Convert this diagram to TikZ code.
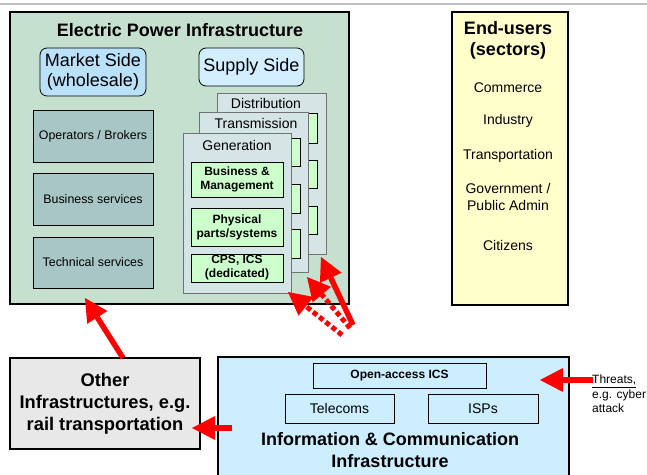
\documentclass[tikz,border=0pt]{standalone}
\usepackage{fontspec}
\setmainfont{Liberation Sans}
\usetikzlibrary{arrows.meta}
\definecolor{epgreen}{RGB}{197,224,206}
\definecolor{mblue}{RGB}{185,225,250}
\definecolor{sblue}{RGB}{210,238,255}
\definecolor{lboxc}{RGB}{169,198,198}
\definecolor{panelc}{RGB}{213,228,228}
\definecolor{ingreen}{RGB}{204,255,204}
\definecolor{euyellow}{RGB}{255,255,204}
\definecolor{othgray}{RGB}{232,232,232}
\definecolor{ictblue}{RGB}{204,238,255}
\definecolor{topline}{RGB}{192,192,192}
\begin{document}
\begin{tikzpicture}[x=1pt,y=-1pt,
  thinbox/.style={draw=black, line width=0.8pt, inner sep=0pt},
  bigbox/.style={draw=black, line width=1.6pt, inner sep=0pt},
  panelbox/.style={draw=black!55, line width=0.7pt, fill=panelc, inner sep=0pt},
  gbox/.style={draw=black, line width=0.8pt, fill=ingreen, inner sep=0pt, align=center, font=\fontsize{12}{14}\selectfont\bfseries},
  lbox/.style={thinbox, fill=lboxc, minimum width=120pt, font=\fontsize{12.4}{14}\selectfont},
  eutext/.style={font=\fontsize{14}{16.5}\selectfont, align=center},
  redarrow/.style={draw=red, line width=5.5pt, -{Triangle[length=23pt,width=24pt,line width=0pt]}},
  reddots/.style={redarrow, line width=5pt, dash pattern=on 5pt off 3pt}
]
\clip (0,0) rectangle (647,474);
\fill[white] (0,0) rectangle (647,474);
\draw[topline, line width=2pt] (0,4) -- (647,4);

% Electric power infrastructure
\node[bigbox, fill=epgreen, minimum width=339pt, minimum height=292pt] (ep) at (179.5,158) {};
\node[font=\fontsize{18}{21}\selectfont\bfseries] (eptitle) at (180,30) {Electric Power Infrastructure};
\node[thinbox, fill=mblue, rounded corners=7pt, minimum width=106pt, minimum height=48pt, align=center, font=\fontsize{18}{21}\selectfont] (mkt) at (93,72) {Market Side\\[-1pt](wholesale)};
\node[thinbox, fill=sblue, rounded corners=7pt, minimum width=105pt, minimum height=38pt, font=\fontsize{18}{21}\selectfont] (sup) at (251.5,67) {Supply Side};

\node[lbox, minimum height=52pt] (ops) at (93,136) {Operators / Brokers};
\node[lbox, minimum height=52pt] (bus) at (93,199) {Business services};
\node[lbox, minimum height=51pt] (tec) at (93,262.5) {Technical services};

% Distribution panel
\node[panelbox, minimum width=109pt, minimum height=161pt] (dis) at (271.5,173.5) {};
\node[font=\fontsize{14}{16}\selectfont] (dislab) at (266,103) {Distribution};
\node[gbox, minimum width=92pt, minimum height=30pt] (d1) at (271,128) {};
\node[gbox, minimum width=92pt, minimum height=28pt] (d2) at (271,174) {};
\node[gbox, minimum width=92pt, minimum height=28pt] (d3) at (271,220) {};

% Transmission panel
\node[panelbox, minimum width=109pt, minimum height=160pt] (tra) at (253.5,192) {};
\node[font=\fontsize{14}{16}\selectfont] (tralab) at (256,123) {Transmission};
\node[gbox, minimum width=93pt, minimum height=28pt] (t1) at (253.5,152) {};
\node[gbox, minimum width=93pt, minimum height=29pt] (t2) at (253.5,198.5) {};
\node[gbox, minimum width=93pt, minimum height=29pt] (t3) at (253.5,243.5) {};

% Generation panel
\node[panelbox, minimum width=108pt, minimum height=160pt] (gen) at (237,213) {};
\node[font=\fontsize{14}{16}\selectfont] (genlab) at (237,145) {Generation};
\node[gbox, minimum width=92pt, minimum height=35pt] (g1) at (237,179.5) {Business \&\\Management};
\node[gbox, minimum width=92pt, minimum height=38pt] (g2) at (237,227) {Physical\\parts/systems};
\node[gbox, minimum width=92pt, minimum height=28pt] (g3) at (237,268) {CPS, ICS\\(dedicated)};

% End-users
\node[bigbox, fill=euyellow, minimum width=116pt, minimum height=293pt] (eu) at (510,158.5) {};
\node[font=\fontsize{18}{20.5}\selectfont\bfseries, align=center] (eutitle) at (508,40.5) {End-users\\(sectors)};
\node[eutext] (com) at (508,88) {Commerce};
\node[eutext] (ind) at (508,121) {Industry};
\node[eutext] (trn) at (508,156) {Transportation};
\node[eutext] (gov) at (508,197) {Government /\\Public Admin};
\node[eutext] (cit) at (508,245) {Citizens};

% Other infrastructures
\node[bigbox, fill=othgray, minimum width=190pt, minimum height=91pt, align=center, font=\fontsize{18.3}{22}\selectfont\bfseries] (oth) at (105,403.5) {Other\\Infrastructures, e.g.\\rail transportation};

% ICT
\node[bigbox, fill=ictblue, minimum width=351pt, minimum height=140pt] (ict) at (393.5,427) {};
\node[thinbox, fill=ictblue, minimum width=173pt, minimum height=25pt, font=\fontsize{12}{14}\selectfont\bfseries] (oics) at (399.5,375.5) {Open-access ICS};
\node[thinbox, fill=ictblue, minimum width=109pt, minimum height=29pt, font=\fontsize{14}{16}\selectfont] (tel) at (339.5,408.5) {Telecoms};
\node[thinbox, fill=ictblue, minimum width=110pt, minimum height=29pt, font=\fontsize{14}{16}\selectfont] (isp) at (483,408.5) {ISPs};
\node[font=\fontsize{18}{22}\selectfont\bfseries, align=center] (icttitle) at (390,450) {Information \& Communication\\Infrastructure};

% Threats
\node[anchor=west, align=left, font=\fontsize{12}{14.5}\selectfont, inner sep=0pt] (thr) at (592,394) {\underline{Threats,}\\e.g. cyber\\attack};

% Arrow end points
\coordinate (thrtail) at (593,380);
\coordinate (thrtip) at (540,380);
\coordinate (icttail) at (232,428);
\coordinate (othtip) at (192,428);
\coordinate (othtail) at (123,358);
\coordinate (eptip) at (85,298);
\coordinate (stail) at (353,325);
\coordinate (stip) at (321,257);
\coordinate (atail) at (350,328);
\coordinate (atip) at (307,277);
\coordinate (btail) at (342,335);
\coordinate (btip) at (288,292);

\draw[redarrow] (thrtail) -- (thrtip);
\draw[redarrow] (icttail) -- (othtip);
\draw[redarrow] (othtail) -- (eptip);
\draw[reddots] (btail) -- (btip);
\draw[reddots] (atail) -- (atip);
\draw[redarrow] (stail) -- (stip);
\end{tikzpicture}
\end{document}
